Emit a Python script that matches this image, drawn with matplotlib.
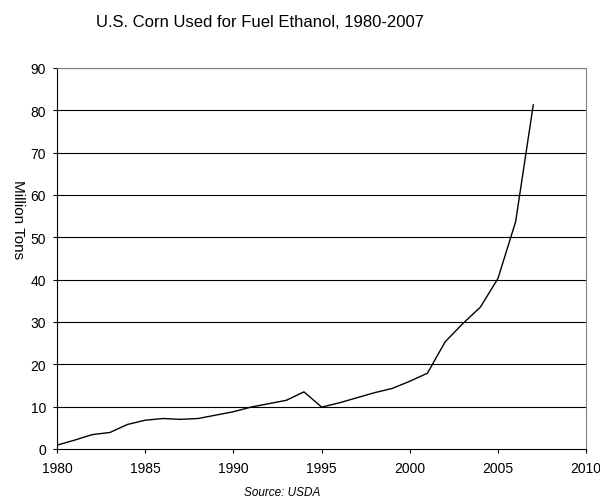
import matplotlib
matplotlib.use('Agg')
import matplotlib.pyplot as plt

plt.rcParams['font.family'] = ['Liberation Sans', 'DejaVu Sans']

# corn used for fuel ethanol, million tons
years = list(range(1980, 2008))
corn = [0.9, 2.1, 3.4, 3.9, 5.8, 6.8, 7.2, 7.0, 7.2, 8.0,
        8.8, 9.9, 10.7, 11.5, 13.5, 9.9, 10.9, 12.1, 13.3, 14.3,
        16.0, 17.9, 25.3, 29.6, 33.5, 40.3, 53.7, 81.3]

x_ticks = [1980, 1985, 1990, 1995, 2000, 2005, 2010]
y_ticks = list(range(0, 100, 10))

fig = plt.figure(figsize=(6.0, 5.02), dpi=100)
ax = fig.add_axes([0.095, 0.1036, 0.882, 0.759])

for yv in y_ticks[1:]:
    ax.axhline(yv, color='black', lw=0.8, zorder=1)

ax.plot(years, corn, color='black', lw=1.0, zorder=3)

ax.set_xlim(1980, 2010)
ax.set_ylim(0, 90)
ax.set_xticks(x_ticks)
ax.set_yticks(y_ticks)
ax.tick_params(direction='out', length=3, width=0.8, labelsize=10, colors='black')
ax.tick_params(axis='y', pad=5)
ax.tick_params(axis='x', pad=6)

ax.spines['left'].set_color('black')
ax.spines['bottom'].set_color('black')
ax.spines['right'].set_color('#808080')
ax.spines['top'].set_color('#808080')
for s in ax.spines.values():
    s.set_linewidth(0.8)

fig.text(0.4325, 0.955, 'U.S. Corn Used for Fuel Ethanol, 1980-2007',
         ha='center', va='center', fontsize=12)
fig.text(0.03, 0.562, 'Million Tons', rotation=-90,
         ha='center', va='center', fontsize=11)
fig.text(0.47, 0.017, 'Source: USDA', style='italic',
         ha='center', va='center', fontsize=8.5)

plt.savefig('out.png', dpi=100)
